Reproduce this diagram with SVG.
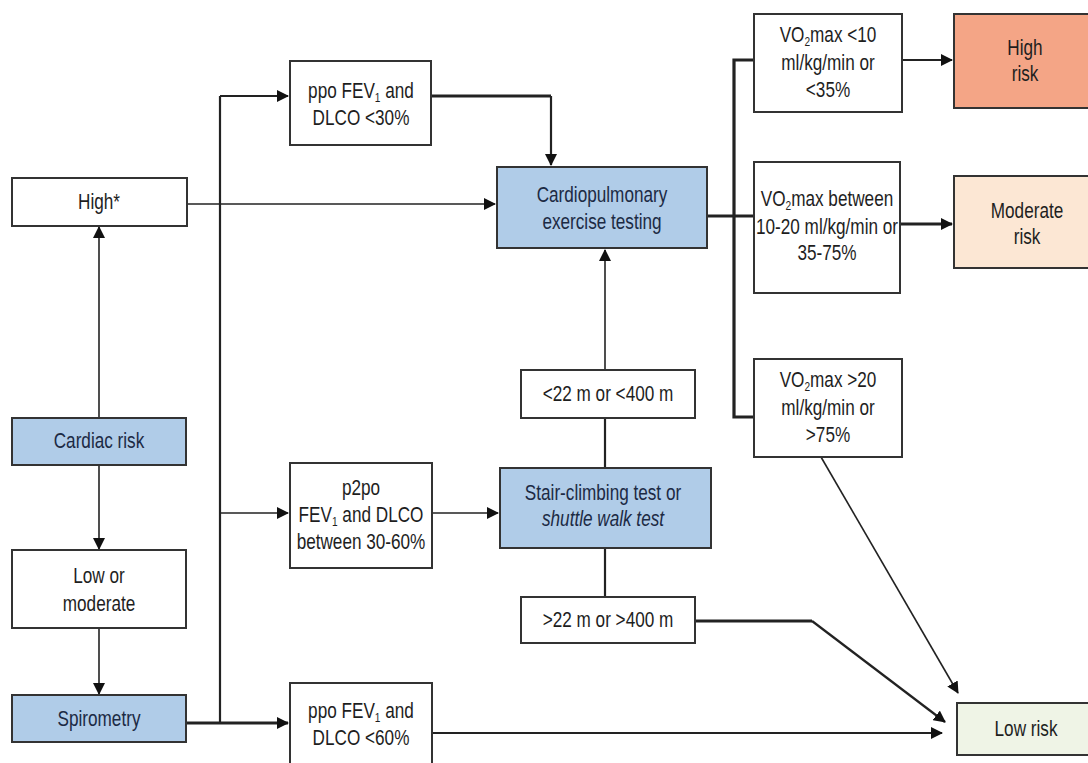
<svg xmlns="http://www.w3.org/2000/svg" width="1088" height="763" viewBox="0 0 1088 763">
<defs>
<marker id="ah" viewBox="0 0 12 12" markerWidth="12" markerHeight="12" refX="11" refY="6" orient="auto" markerUnits="userSpaceOnUse">
<path d="M0,0 L12,6 L0,12 z" fill="#111"/>
</marker>
</defs>
<style>
.box{stroke:#333;stroke-width:2;fill:#fff}
.blue{fill:#b0cce8}
.hr{fill:#f4a586}
.mr{fill:#fce7d4}
.lr{fill:#eff4e6}
.t{font-family:"Liberation Sans",Arial,sans-serif;font-size:22px;fill:#1e1e1e;text-anchor:middle}
.tb{fill:#1c2a44}
.sub{font-size:13px}
.c{fill:none;stroke:#222;stroke-width:1.6}
.m{stroke-width:2.2}
.k{stroke-width:3.2}
</style>
<rect width="1088" height="763" fill="#fff"/>
<g id="connectors">
<path class="c" d="M187 204 H495" marker-end="url(#ah)"/>
<path class="c" d="M99 418 V227" marker-end="url(#ah)"/>
<path class="c" d="M99 465 V549" marker-end="url(#ah)"/>
<path class="c" d="M99 628 V694" marker-end="url(#ah)"/>
<path class="c m" d="M220 96 V723"/>
<path class="c k" d="M186 723 H288" marker-end="url(#ah)"/>
<path class="c m" d="M220 96 H288" marker-end="url(#ah)"/>
<path class="c" d="M220 513 H288" marker-end="url(#ah)"/>
<path class="c k" d="M431 96 H551"/>
<path class="c m" d="M551 96 V165" marker-end="url(#ah)"/>
<path class="c" d="M432 513 H498" marker-end="url(#ah)"/>
<path class="c m" d="M605 468 V418"/>
<path class="c" d="M605 370 V250" marker-end="url(#ah)"/>
<path class="c m" d="M605 548 V597"/>
<path class="c k" d="M707 216 H754"/>
<path class="c k" d="M754 60 H734 V417 H754"/>
<path class="c m" d="M902 60 H952" marker-end="url(#ah)"/>
<path class="c k" d="M900 224 H952" marker-end="url(#ah)"/>
<path class="c" d="M821 457 L958 693" marker-end="url(#ah)"/>
<path class="c k" d="M695 621 H812"/>
<path class="c m" d="M812 621 L945 722" marker-end="url(#ah)"/>
<path class="c m" d="M432 733 H942" marker-end="url(#ah)"/>
</g>
<g id="high">
<rect class="box" x="12" y="178" width="175" height="48"/>
<text class="t" transform="translate(99 0) scale(0.78 1)" x="0" y="209">High*</text>
</g>
<g id="cardiac-risk">
<rect class="box blue" x="12" y="418" width="174" height="47"/>
<text class="t tb" transform="translate(99 0) scale(0.78 1)" x="0" y="448">Cardiac risk</text>
</g>
<g id="low-moderate">
<rect class="box" x="12" y="550" width="174" height="78"/>
<text class="t" transform="translate(99 0) scale(0.78 1)"><tspan x="0" y="583">Low or</tspan><tspan x="0" y="611">moderate</tspan></text>
</g>
<g id="spirometry">
<rect class="box blue" x="12" y="695" width="174" height="47"/>
<text class="t tb" transform="translate(99 0) scale(0.78 1)" x="0" y="726">Spirometry</text>
</g>
<g id="ppo30">
<rect class="box" x="290" y="61" width="141" height="84"/>
<text class="t" transform="translate(361 0) scale(0.78 1)"><tspan x="0" y="98">ppo FEV<tspan class="sub" dy="4">1</tspan><tspan dy="-4"> and</tspan></tspan><tspan x="0" y="125">DLCO &lt;30%</tspan></text>
</g>
<g id="p2po">
<rect class="box" x="290" y="463" width="142" height="105"/>
<text class="t" transform="translate(361 0) scale(0.78 1)"><tspan x="0" y="495">p2po</tspan><tspan x="0" y="522">FEV<tspan class="sub" dy="4">1</tspan><tspan dy="-4"> and DLCO</tspan></tspan><tspan x="0" y="549">between 30-60%</tspan></text>
</g>
<g id="ppo60">
<rect class="box" x="290" y="683" width="142" height="90"/>
<text class="t" transform="translate(361 0) scale(0.78 1)"><tspan x="0" y="718">ppo FEV<tspan class="sub" dy="4">1</tspan><tspan dy="-4"> and</tspan></tspan><tspan x="0" y="745">DLCO &lt;60%</tspan></text>
</g>
<g id="cpet">
<rect class="box blue" x="497" y="167" width="210" height="81"/>
<text class="t tb" transform="translate(602 0) scale(0.78 1)"><tspan x="0" y="202">Cardiopulmonary</tspan><tspan x="0" y="229">exercise testing</tspan></text>
</g>
<g id="lt22">
<rect class="box" x="521" y="370" width="174" height="48"/>
<text class="t" transform="translate(608 0) scale(0.78 1)" x="0" y="401">&lt;22 m or &lt;400 m</text>
</g>
<g id="stair">
<rect class="box blue" x="500" y="468" width="211" height="80"/>
<text class="t tb" transform="translate(603 0) scale(0.78 1)"><tspan x="0" y="500">Stair-climbing test or</tspan><tspan x="0" y="526" font-style="italic">shuttle walk test</tspan></text>
</g>
<g id="gt22">
<rect class="box" x="521" y="597" width="174" height="46"/>
<text class="t" transform="translate(608 0) scale(0.78 1)" x="0" y="627">&gt;22 m or &gt;400 m</text>
</g>
<g id="vo2-lt10">
<rect class="box" x="754" y="14" width="148" height="98"/>
<text class="t" transform="translate(828 0) scale(0.78 1)"><tspan x="0" y="42">VO<tspan class="sub" dy="4">2</tspan><tspan dy="-4">max &lt;10</tspan></tspan><tspan x="0" y="70">ml/kg/min or</tspan><tspan x="0" y="97">&lt;35%</tspan></text>
</g>
<g id="vo2-between">
<rect class="box" x="754" y="162" width="146" height="131"/>
<text class="t" transform="translate(827 0) scale(0.78 1)"><tspan x="0" y="206">VO<tspan class="sub" dy="4">2</tspan><tspan dy="-4">max between</tspan></tspan><tspan x="0" y="234">10-20 ml/kg/min or</tspan><tspan x="0" y="260">35-75%</tspan></text>
</g>
<g id="vo2-gt20">
<rect class="box" x="754" y="359" width="148" height="98"/>
<text class="t" transform="translate(828 0) scale(0.78 1)"><tspan x="0" y="387">VO<tspan class="sub" dy="4">2</tspan><tspan dy="-4">max &gt;20</tspan></tspan><tspan x="0" y="415">ml/kg/min or</tspan><tspan x="0" y="442">&gt;75%</tspan></text>
</g>
<g id="high-risk">
<rect class="box hr" x="954" y="14" width="150" height="94"/>
<text class="t" transform="translate(1025 0) scale(0.78 1)"><tspan x="0" y="55">High</tspan><tspan x="0" y="81">risk</tspan></text>
</g>
<g id="moderate-risk">
<rect class="box mr" x="954" y="176" width="150" height="92"/>
<text class="t" transform="translate(1027 0) scale(0.78 1)"><tspan x="0" y="218">Moderate</tspan><tspan x="0" y="244">risk</tspan></text>
</g>
<g id="low-risk">
<rect class="box lr" x="957" y="703" width="150" height="52"/>
<text class="t" transform="translate(1026 0) scale(0.78 1)" x="0" y="736">Low risk</text>
</g>
</svg>
